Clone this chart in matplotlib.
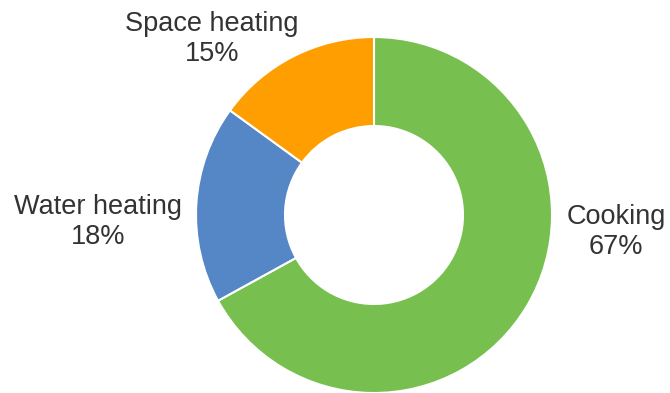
import matplotlib
matplotlib.use("Agg")
import matplotlib.pyplot as plt

categories = ["Cooking", "Water heating", "Space heating"]
values = [67, 18, 15]
colors = ["#77BF4F", "#5587C7", "#FF9E00"]

W, H = 670, 393
fig = plt.figure(figsize=(W / 100, H / 100), dpi=100)
ax = fig.add_axes([0, 0, 1, 1])

cx, cy, R = 374, H - 215, 178
ax.pie(values, colors=colors, startangle=90, counterclock=False,
       center=(cx, cy), radius=R, frame=True,
       wedgeprops=dict(width=R * 0.5, edgecolor="white", linewidth=1.5))
ax.set_xlim(0, W)
ax.set_ylim(0, H)
ax.set_aspect("equal")
ax.axis("off")

label_pos = {"Cooking": (616, 232), "Water heating": (98, 222), "Space heating": (212, 39)}
for c, v in zip(categories, values):
    x, y = label_pos[c]
    ax.text(x, H - y, f"{c}\n{v}%", ha="center", va="center",
            fontsize=19.5, family="Liberation Sans", color="#333333", linespacing=1.2)

fig.savefig("out.png", dpi=100)
